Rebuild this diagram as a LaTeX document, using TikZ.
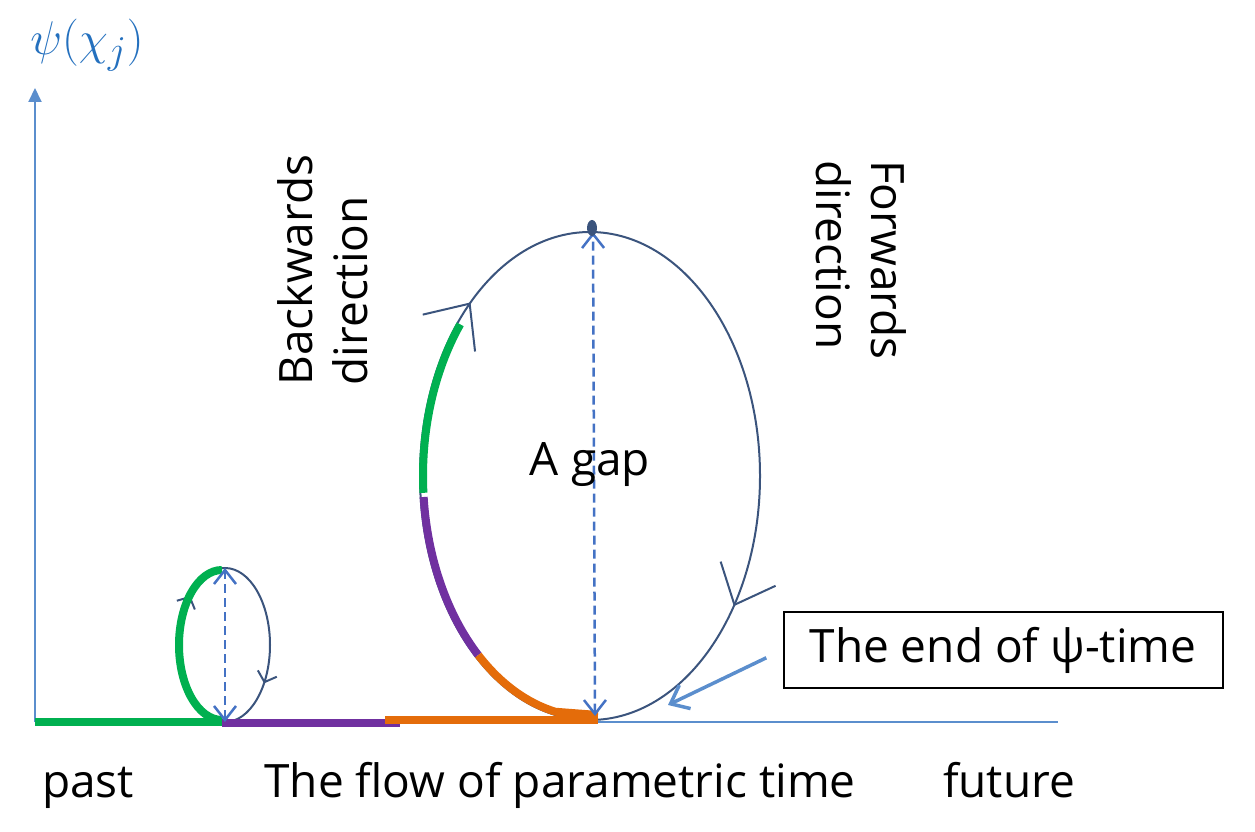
\documentclass[tikz,border=0pt]{standalone}
\usepackage{fontspec}
\setmainfont{Open Sans}
\usepackage{tikz}
\usetikzlibrary{arrows.meta, positioning, calc, decorations.markings}
\definecolor{axisblue}{RGB}{91,142,205}
\definecolor{labelblue}{RGB}{36,112,190}
\definecolor{loopblue}{RGB}{59,84,125}
\definecolor{gapblue}{RGB}{68,114,196}
\definecolor{flowgreen}{RGB}{0,176,80}
\definecolor{flowpurple}{RGB}{112,48,160}
\definecolor{floworange}{RGB}{228,108,10}

\begin{document}
\begin{tikzpicture}[
    x=1pt, y=1pt,
    axis/.style={draw=axisblue, line width=2pt},
    loopline/.style={draw=loopblue, line width=2pt},
    flow/.style={line width=8pt},
    gap/.style={draw=gapblue, line width=2.5pt, dash pattern=on 9pt off 5pt,
        {Straight Barb[length=14pt,width=22pt]}-{Straight Barb[length=14pt,width=22pt]}},
    word/.style={font=\fontsize{46}{55}\selectfont, inner sep=0pt},
    smallloop/.style={loopline, postaction={decorate}, decoration={markings,
        mark=at position 0.38 with {\arrow{Straight Barb[length=9pt,width=20pt]}},
        mark=at position 0.85 with {\arrow{Straight Barb[length=9pt,width=20pt]}}}},
    bigloop/.style={loopline, postaction={decorate}, decoration={markings,
        mark=at position 0.39 with {\arrow{Straight Barb[length=36pt,width=64pt]}},
        mark=at position 0.852 with {\arrow{Straight Barb[length=34pt,width=60pt]}}}},
    pointer/.style={-{Straight Barb[length=16pt,width=26pt]}, draw=axisblue, line width=3.5pt},
]
\useasboundingbox (0,0) rectangle (1255,831);

% axes
\coordinate (O) at (35,109);
\coordinate (ytop) at (35,743);
\coordinate (xend) at (1058,109);
\draw[axis, -{Triangle[length=14pt,width=13pt]}] (O) -- (ytop);
\draw[axis] (O) -- (xend);
\node[text=labelblue, font=\Huge, scale=1.9, transform shape] (psilabel) at (87,786) {$\psi(\chi_j)$};

% loops
\coordinate (smallbot) at (225,109);
\coordinate (smallc) at (225,186);
\coordinate (smalltop) at (225,263);
\coordinate (bigbot) at (590,111);
\coordinate (bigc) at (590,355);
\coordinate (bigtop) at (593,599);
\draw[smallloop] (smallbot) arc[start angle=270, end angle=-90, x radius=45pt, y radius=77pt];
\draw[bigloop] (bigbot) arc[start angle=270, end angle=-90, x radius=170pt, y radius=244pt];

% coloured stretches of the flow
\draw[flow, flowgreen] (35,109) -- (222,109);
\draw[flow, flowpurple] (222,108) -- (400,108);
\draw[flow, floworange] (385,111) -- (598,111);
\draw[flow, flowgreen] (smallbot) ++(-3,2) arc[start angle=-90, end angle=-270, x radius=43pt, y radius=75pt];
\draw[flow, flowgreen] (bigc) ++(184:167pt and 241pt) arc[start angle=184, end angle=141, x radius=167pt, y radius=241pt];
\draw[flow, flowpurple] (bigc) ++(185:167pt and 241pt) arc[start angle=185, end angle=228, x radius=167pt, y radius=241pt];
\draw[flow, floworange] (bigc) ++(228:167pt and 241pt) arc[start angle=228, end angle=258, x radius=167pt, y radius=241pt] -- (598,116);

% gaps
\draw[gap] (smallbot) -- (smalltop);
\draw[gap] (595,115) -- (bigtop);
\fill[loopblue] (592,603) ellipse[x radius=5pt, y radius=8pt];
\node[word] (gaplabel) at (590,366) {A gap};

% directions
\node[word, rotate=90, align=left] (backward) at (323,561) {Backwards\\direction};
\node[word, rotate=-90, align=left] (forward) at (861,571) {Forwards\\direction};

% end of psi-time
\node[word, draw=black, line width=2pt, minimum width=439pt, minimum height=76pt] (endbox) at (1003,181) {The end of ψ-time};
\coordinate (endtip) at (668,126);
\draw[pointer, shorten <=18pt] (endbox.west) -- (endtip);

% time axis labels
\node[word, anchor=base] (past) at (88,34) {past};
\node[word, anchor=base] (flowlabel) at (560,34) {The flow of parametric time};
\node[word, anchor=base] (future) at (1009,34) {future};

\end{tikzpicture}
\end{document}
